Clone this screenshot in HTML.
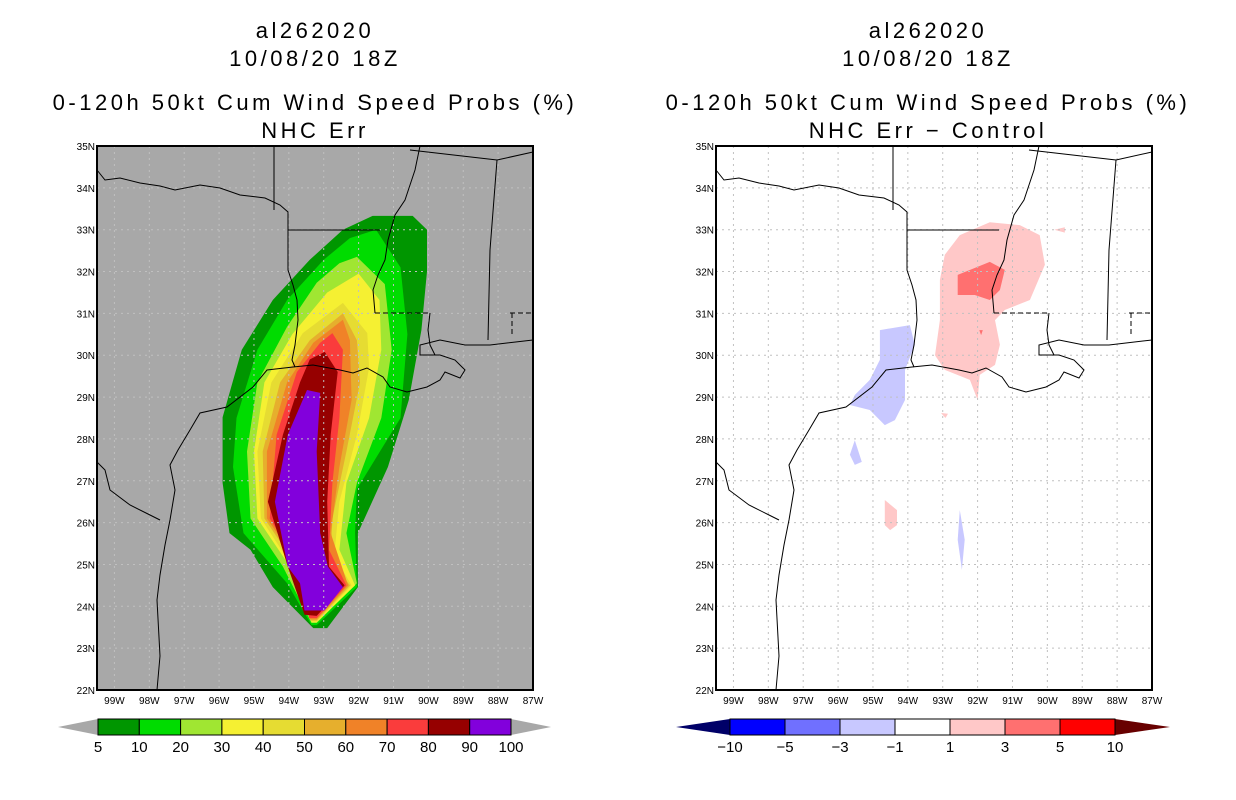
<!DOCTYPE html>
<html><head><meta charset="utf-8"><style>
html,body{margin:0;padding:0;background:#fff;}
svg{display:block;font-family:"Liberation Sans",sans-serif;}
.t{font-size:22px;letter-spacing:3.5px;text-anchor:middle;fill:#000}
.ax{font-size:10px;fill:#000}
.cb{font-size:15px;text-anchor:middle;fill:#000}
</style></head><body>
<svg id="root" width="1236" height="800" viewBox="0 0 1236 800">
<g>
<text class="t" x="315" y="38">al262020</text>
<text class="t" x="315" y="66">10/08/20 18Z</text>
<text class="t" x="315" y="110">0-120h 50kt Cum Wind Speed Probs (%)</text>
<text class="t" x="315" y="138">NHC Err</text>
</g>
<g>
<text class="t" x="928" y="38">al262020</text>
<text class="t" x="928" y="66">10/08/20 18Z</text>
<text class="t" x="928" y="110">0-120h 50kt Cum Wind Speed Probs (%)</text>
<text class="t" x="928" y="138">NHC Err − Control</text>
</g>
<g id="left"></g>
<g id="right"></g>
<g id="cbl"></g>
<g id="cbr"></g>
</svg>
<script>
// ---- data ----
const lonTicks=[-99,-98,-97,-96,-95,-94,-93,-92,-91,-90,-89,-88,-87];
const latTicks=[22,23,24,25,26,27,28,29,30,31,32,33,34,35];
const probLevels=[5,10,20,30,40,50,60,70,80,90];
const probColors=["#009600","#00dc00","#a0e632","#f5f032","#e6dc32","#e6af2d","#f08228","#fa3c3c","#960000","#8200dc"];
const prob5=[[-90.45,33.33],[-90.04,33.0],[-90.04,32.0],[-90.2,30.6],[-90.56,28.93],[-91.16,27.33],[-92.02,25.75],[-92.02,24.46],[-92.9,23.48],[-93.3,23.48],[-94.46,24.46],[-95.1,25.35],[-95.7,25.75],[-95.9,26.95],[-95.9,28.52],[-95.35,30.13],[-94.46,31.32],[-93.4,32.28],[-92.45,33.0],[-91.6,33.33]];
const prob10=[[-91.5,33.0],[-90.8,32.1],[-90.6,30.5],[-90.8,28.5],[-92.05,26.8],[-92.1,25.75],[-92.05,24.46],[-93.2,23.55],[-93.35,23.55],[-94.05,24.55],[-95.3,25.75],[-95.6,27.33],[-95.5,28.5],[-94.9,30.13],[-94.05,31.32],[-93.0,32.28],[-92.25,32.8]];
const prob20=[[-92.05,32.35],[-91.25,31.7],[-91.05,30.13],[-91.35,28.5],[-92.05,26.95],[-92.35,25.75],[-92.05,24.55],[-93.2,23.6],[-93.35,23.6],[-94.17,24.95],[-95.1,26.1],[-95.2,27.7],[-94.9,29.35],[-94.05,30.68],[-93.2,31.73],[-92.55,32.2]];
const prob30=[[-92.0,31.95],[-91.4,31.32],[-91.35,30.13],[-91.7,28.5],[-92.35,26.95],[-92.55,25.35],[-92.1,24.5],[-93.2,23.62],[-93.35,23.62],[-93.97,24.95],[-94.9,26.1],[-95.0,27.7],[-94.7,29.35],[-93.9,30.5],[-92.9,31.5]];
const prob40=[[-92.45,31.25],[-91.75,30.53],[-91.7,29.7],[-92.05,28.1],[-92.55,26.5],[-92.7,25.2],[-92.2,24.5],[-93.2,23.64],[-93.35,23.64],[-93.9,24.95],[-94.8,26.1],[-94.9,27.7],[-94.5,29.35],[-93.6,30.53]];
const prob50=[[-92.45,31.0],[-92.05,30.36],[-91.96,29.35],[-92.35,27.7],[-92.75,26.1],[-92.8,25.1],[-92.25,24.5],[-93.2,23.66],[-93.37,23.66],[-93.77,24.95],[-94.7,26.1],[-94.75,27.7],[-94.25,29.35],[-93.4,30.36]];
const prob60=[[-92.45,30.85],[-92.25,30.36],[-92.2,28.93],[-92.55,27.33],[-92.8,25.75],[-92.3,24.5],[-93.2,23.69],[-93.4,23.69],[-93.68,24.95],[-94.63,26.1],[-94.63,27.7],[-94.05,29.35],[-93.3,30.3]];
const prob70=[[-92.75,30.53],[-92.45,30.13],[-92.55,28.5],[-92.75,26.95],[-92.85,25.35],[-92.35,24.5],[-93.2,23.72],[-93.42,23.72],[-93.68,24.95],[-94.55,26.1],[-94.35,28.1],[-93.77,29.6],[-93.1,30.3]];
const prob80=[[-92.97,30.08],[-92.6,29.6],[-92.8,28.1],[-92.9,26.5],[-92.85,24.95],[-92.4,24.5],[-93.2,23.77],[-93.55,23.8],[-94.03,24.95],[-94.6,26.5],[-94.17,28.1],[-93.68,29.35],[-93.4,29.9]];
const prob90=[[-93.48,29.17],[-93.1,29.1],[-93.2,27.7],[-93.1,25.75],[-92.88,24.95],[-92.45,24.46],[-92.98,23.9],[-93.55,23.9],[-93.68,24.55],[-94.03,24.95],[-94.4,26.5],[-94.03,28.1]];
const probPolys=[prob5,prob10,prob20,prob30,prob40,prob50,prob60,prob70,prob80,prob90];
const diffLevels=[-10,-5,-3,-1,1,3,5,10];
const diffColors=["#000068","#0000ff","#7070ff","#c8c8ff","#ffffff","#ffc8c8","#ff7070","#ff0000","#680000"];
const diffPink=[[-92.51,32.87],[-91.65,33.18],[-90.79,33.11],[-90.22,32.87],[-90.07,32.16],[-90.5,31.32],[-91.22,31.08],[-91.5,30.84],[-91.36,30.25],[-91.5,29.77],[-91.94,29.53],[-92.0,28.93],[-92.22,29.41],[-92.94,29.65],[-93.22,30.0],[-93.08,30.84],[-93.08,31.8],[-92.94,32.4]];
const diffPink2=[[-94.66,26.54],[-94.31,26.3],[-94.31,25.94],[-94.51,25.82],[-94.66,25.94]];
const diffPink3=[[-89.8,33.0],[-89.5,33.06],[-89.5,32.93]];
const diffPink4=[[-93.05,28.62],[-92.85,28.6],[-92.92,28.5]];
const diffRed=[[-92.57,31.92],[-91.65,32.23],[-91.22,32.04],[-91.36,31.56],[-91.65,31.32],[-92.08,31.44],[-92.57,31.44]];
const diffRed2=[[-91.95,30.6],[-91.85,30.6],[-91.9,30.48]];
const diffBlue=[[-94.8,30.6],[-93.94,30.72],[-93.8,30.25],[-94.08,29.65],[-94.08,28.93],[-94.37,28.45],[-94.66,28.33],[-95.09,28.69],[-95.66,28.81],[-95.52,29.05],[-95.09,29.41],[-94.8,29.89]];
const diffBlue2=[[-95.52,27.97],[-95.32,27.45],[-95.52,27.38],[-95.66,27.62]];
const diffBlue3=[[-92.51,26.3],[-92.37,25.59],[-92.45,24.87],[-92.57,25.59]];
const diffShapes=[[diffPink,"#ffc8c8"],[diffPink2,"#ffc8c8"],[diffPink3,"#ffc8c8"],[diffPink4,"#ffc8c8"],[diffRed,"#ff7070"],[diffRed2,"#ff7070"],[diffBlue,"#c8c8ff"],[diffBlue2,"#c8c8ff"],[diffBlue3,"#c8c8ff"]];
// basemap lines (panel-relative pixels)
const coast="M60,544 L63,510 L60,454 L63,429 L68,399 L73,374 L78,344 L73,319 L81,304 L93,284 L103,267 L130,261 L156,241 L170,224 L196,221 L216,219 L243,224 L256,227 L270,222 L286,231 L293,241 L310,246 L330,241 L343,234 L348,226 L363,232 L368,224 L358,214 L343,209 L323,209 L323,199 L343,194 L368,199 L393,199 L436,194";
const borders=["M0,24 L8,34 L23,32 L43,37 L63,40 L78,44 L103,39 L123,42 L143,49 L168,52 L183,59 L191,66 L191,124 L196,139 L200,154 L201,174 L198,199 L195,214 L198,221",
"M191,84 L283,84","M323,0 L318,24 L313,39 L308,54 L298,69 L291,94 L288,114 L281,129 L276,144 L278,167",
"M333,167 L331,184 L333,199 L338,209","M400,14 L393,104 L391,194","M177,0 L177,64",
"M0,316 L8,324 L13,344 L33,359 L53,369 L63,374","M313,4 L400,14 L436,6"];
const dashed=["M278,167 L333,167","M413,167 L436,167","M415,167 L415,189"];
// ---- projection ----
const W=436,H=544,LON0=-99.5,LON1=-87,LAT0=22,LAT1=35;
const px=lon=>(lon-LON0)/(LON1-LON0)*W;
const py=lat=>(LAT1-lat)/(LAT1-LAT0)*H;
const NS="http://www.w3.org/2000/svg";
function mk(tag,attrs,parent){const e=document.createElementNS(NS,tag);for(const k in attrs)e.setAttribute(k,attrs[k]);parent.appendChild(e);return e;}
function poly(pts){return pts.map(p=>px(p[0]).toFixed(1)+","+py(p[1]).toFixed(1)).join(" ");}
function panel(g,ox,oy,bg,drawFill){
  g.setAttribute("transform","translate("+ox+","+oy+")");
  const r=mk("rect",{x:0,y:0,width:W,height:H,fill:bg},g);
  
  
  drawFill(g);
  lonTicks.forEach(l=>{const x=px(l);
    const ln=mk("line",{x1:x,y1:0,x2:x,y2:H,stroke:"#c0c0c0","stroke-dasharray":"2,4","stroke-width":1},g);
    
    
    const t=mk("text",{x:x,y:H+14,"text-anchor":"middle",class:"ax"},g);t.textContent=Math.abs(l)+"W";
    
    });
  latTicks.forEach(l=>{const y=py(l);
    if(l>LAT0&&l<LAT1){const ln=mk("line",{x1:0,y1:y,x2:W,y2:y,stroke:"#c0c0c0","stroke-dasharray":"2,4","stroke-width":1},g);
    
    }
    const t=mk("text",{x:-2,y:y+4,"text-anchor":"end",class:"ax"},g);t.textContent=l+"N";
    
    });
  const c=mk("path",{d:coast,fill:"none",stroke:"#000","stroke-width":1},g);
  
  
  borders.forEach(d=>{const b=mk("path",{d:d,fill:"none",stroke:"#000","stroke-width":1},g);
    
    });
  dashed.forEach(d=>{const b=mk("path",{d:d,fill:"none",stroke:"#000","stroke-width":1,"stroke-dasharray":"5,3"},g);
    
    });
  const f=mk("rect",{x:0,y:0,width:W,height:H,fill:"none",stroke:"#000","stroke-width":2},g);
  
  
}
panel(document.getElementById("left"),97,146,"#a8a8a8",g=>{
  probPolys.forEach((p,i)=>{const e=mk("polygon",{points:poly(p),fill:probColors[i]},g);
    
    });
});
panel(document.getElementById("right"),716,146,"#ffffff",g=>{
  diffShapes.forEach(s=>{const e=mk("polygon",{points:poly(s[0]),fill:s[1]},g);
    
    });
});
function colorbar(g,x0,x1,tipL,tipR,colors,labels,leftTri,rightTri){
  const y0=719,y1=735,ym=727;
  let boxes=colors.slice(leftTri?1:0, rightTri?colors.length-1:colors.length);
  const bw=(x1-x0)/boxes.length;
  const lt=mk("polygon",{points:tipL+","+ym+" "+x0+","+y0+" "+x0+","+y1,fill:leftTri?colors[0]:"#a8a8a8"},g);
  
  
  const rt=mk("polygon",{points:tipR+","+ym+" "+x1+","+y0+" "+x1+","+y1,fill:rightTri?colors[colors.length-1]:"#a8a8a8"},g);
  
  
  boxes.forEach((c,i)=>{const b=mk("rect",{x:x0+i*bw,y:y0,width:bw,height:y1-y0,fill:c,stroke:"#000","stroke-width":1},g);
    
    });
  labels.forEach((l,i)=>{const t=mk("text",{x:x0+i*bw,y:752,class:"cb"},g);t.textContent=String(l).replace("-","−");
    
    });
}
colorbar(document.getElementById("cbl"),98,511,58,551,probColors,[5,10,20,30,40,50,60,70,80,90,100],false,false);
colorbar(document.getElementById("cbr"),730,1115,676,1170,diffColors,diffLevels,true,true);
</script>
</body></html>
